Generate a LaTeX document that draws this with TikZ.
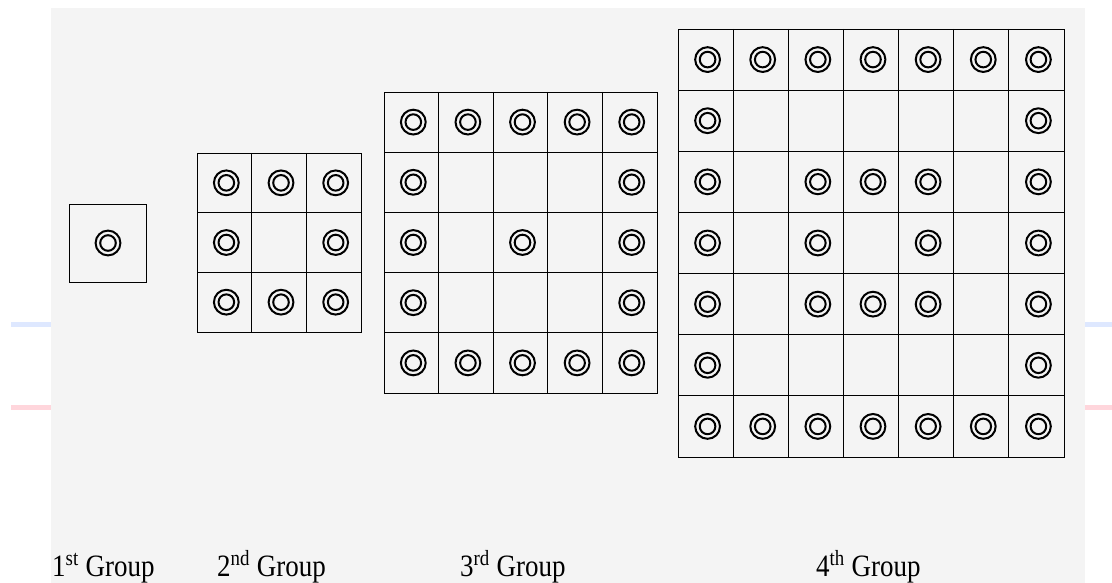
\documentclass[tikz,border=0pt]{standalone}
\usepackage{fontspec}
\usepackage{graphicx}
\setmainfont{Liberation Serif}
\definecolor{bgfill}{RGB}{244,244,244}
\definecolor{sideblue}{RGB}{222,232,255}
\definecolor{sidepink}{RGB}{255,214,220}
\begin{document}
\begin{tikzpicture}[x=1pt,y=-1pt,
  gridline/.style={draw=black,line width=0.9pt},
  ringmark/.style={draw=black,line width=2pt},
  sidebar/.style={line width=5pt},
  grouplabel/.style={anchor=base west,inner sep=0pt,font=\fontsize{27}{32}\selectfont}]
\useasboundingbox (0,0) rectangle (1112,583);
% background
\fill[bgfill] (51,8) rectangle (1085,583);
\draw[sidebar,sideblue] (11,324) -- (51,324);
\draw[sidebar,sidepink] (11,407) -- (51,407);
\draw[sidebar,sideblue] (1085,324) -- (1112,324);
\draw[sidebar,sidepink] (1085,407) -- (1112,407);

% ---------- Group 1 ----------
\draw[gridline] (69,204) rectangle (146,282);
\draw[ringmark] (108,243) circle[radius=12.4pt] (108,243) circle[radius=7.8pt];

% ---------- Group 2 ----------
\def\gxa{197}\def\gya{153}\def\gwa{54.67}\def\gha{59.67}
\draw[gridline] (\gxa,\gya) rectangle ({\gxa+3*\gwa},{\gya+3*\gha});
\foreach \i in {1,2} {
  \draw[gridline] ({\gxa+\i*\gwa},\gya) -- ({\gxa+\i*\gwa},{\gya+3*\gha});
  \draw[gridline] (\gxa,{\gya+\i*\gha}) -- ({\gxa+3*\gwa},{\gya+\i*\gha});
}
\foreach \c/\r in {1/1,2/1,3/1,1/2,3/2,1/3,2/3,3/3}
  \draw[ringmark] ({\gxa+(\c-0.5)*\gwa+2},{\gya+(\r-0.5)*\gha}) circle[radius=12.4pt]
                  ({\gxa+(\c-0.5)*\gwa+2},{\gya+(\r-0.5)*\gha}) circle[radius=7.8pt];

% ---------- Group 3 ----------
\def\gxb{384}\def\gyb{92}\def\gwb{54.6}\def\ghb{60.2}
\draw[gridline] (\gxb,\gyb) rectangle ({\gxb+5*\gwb},{\gyb+5*\ghb});
\foreach \i in {1,...,4} {
  \draw[gridline] ({\gxb+\i*\gwb},\gyb) -- ({\gxb+\i*\gwb},{\gyb+5*\ghb});
  \draw[gridline] (\gxb,{\gyb+\i*\ghb}) -- ({\gxb+5*\gwb},{\gyb+\i*\ghb});
}
\foreach \c/\r in {1/1,2/1,3/1,4/1,5/1,1/2,5/2,1/3,3/3,5/3,1/4,5/4,1/5,2/5,3/5,4/5,5/5}
  \draw[ringmark] ({\gxb+(\c-0.5)*\gwb+2},{\gyb+(\r-0.5)*\ghb}) circle[radius=12.4pt]
                  ({\gxb+(\c-0.5)*\gwb+2},{\gyb+(\r-0.5)*\ghb}) circle[radius=7.8pt];

% ---------- Group 4 ----------
\def\gxc{678}\def\gyc{29}\def\gwc{55.14}\def\ghc{61.14}
\draw[gridline] (\gxc,\gyc) rectangle ({\gxc+7*\gwc},{\gyc+7*\ghc});
\foreach \i in {1,...,6} {
  \draw[gridline] ({\gxc+\i*\gwc},\gyc) -- ({\gxc+\i*\gwc},{\gyc+7*\ghc});
  \draw[gridline] (\gxc,{\gyc+\i*\ghc}) -- ({\gxc+7*\gwc},{\gyc+\i*\ghc});
}
\foreach \c/\r in {1/1,2/1,3/1,4/1,5/1,6/1,7/1,
                   1/2,7/2,
                   1/3,3/3,4/3,5/3,7/3,
                   1/4,3/4,5/4,7/4,
                   1/5,3/5,4/5,5/5,7/5,
                   1/6,7/6,
                   1/7,2/7,3/7,4/7,5/7,6/7,7/7}
  \draw[ringmark] ({\gxc+(\c-0.5)*\gwc+2},{\gyc+(\r-0.5)*\ghc}) circle[radius=12.4pt]
                  ({\gxc+(\c-0.5)*\gwc+2},{\gyc+(\r-0.5)*\ghc}) circle[radius=7.8pt];

% ---------- labels ----------
\node[grouplabel] (l1) at (52,576) {\scalebox{1}[1.15]{1\textsuperscript{st} Group}};
\node[grouplabel] (l2) at (217,576) {\scalebox{1}[1.15]{2\textsuperscript{nd} Group}};
\node[grouplabel] (l3) at (460,576) {\scalebox{1}[1.15]{3\textsuperscript{rd} Group}};
\node[grouplabel] (l4) at (816,576) {\scalebox{1}[1.15]{4\textsuperscript{th} Group}};
\end{tikzpicture}
\end{document}
